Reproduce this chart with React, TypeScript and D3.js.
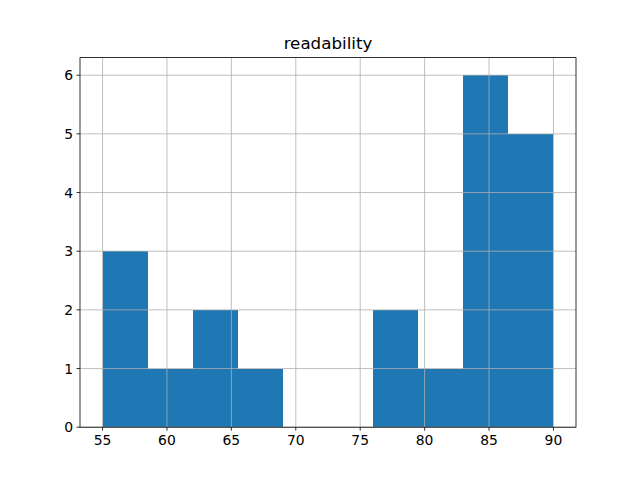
import React from "react";
import * as d3 from "d3";

const binEdges = [55, 58.5, 62, 65.5, 69, 72.5, 76, 79.5, 83, 86.5, 90];
const counts = [3, 1, 2, 1, 0, 0, 2, 1, 6, 5];
const xTicks = [55, 60, 65, 70, 75, 80, 85, 90];
const yTicks = [0, 1, 2, 3, 4, 5, 6];
const title = "readability";

export default function App() {
  const W = 640, H = 480;
  const left = 80, right = 576, top = 57.6, bottom = 427.2;
  const x = d3.scaleLinear().domain([53.25, 91.75]).range([left, right]);
  const y = d3.scaleLinear().domain([0, 6.3]).range([bottom, top]);
  const font = "DejaVu Sans, sans-serif";
  const r = (v: number) => Math.round(v);
  return (
    <svg width={W} height={H} style={{ position: "absolute", left: 0, top: 0 }}>
      <rect width={W} height={H} fill="#fff" />
      {counts.map((c, i) => (
        <rect
          key={i}
          x={r(x(binEdges[i]))}
          width={r(x(binEdges[i + 1])) - r(x(binEdges[i]))}
          y={r(y(c))}
          height={r(y(0)) - r(y(c))}
          fill="#1f77b4"
          shapeRendering="crispEdges"
        />
      ))}
      {xTicks.map((t) => (
        <line key={"gx" + t} x1={x(t)} x2={x(t)} y1={top} y2={bottom} stroke="#b0b0b0" strokeWidth={0.8} />
      ))}
      {yTicks.map((t) => (
        <line key={"gy" + t} x1={left} x2={right} y1={y(t)} y2={y(t)} stroke="#b0b0b0" strokeWidth={0.8} />
      ))}
      <rect x={left} y={top} width={right - left} height={bottom - top} fill="none" stroke="#000" strokeWidth={0.8} />
      {xTicks.map((t) => (
        <g key={"tx" + t}>
          <line x1={x(t)} x2={x(t)} y1={bottom} y2={bottom + 3.5} stroke="#000" strokeWidth={0.8} />
          <text x={x(t)} y={bottom + 7} dy="0.76em" textAnchor="middle" fontFamily={font} fontSize={13.9}>
            {t}
          </text>
        </g>
      ))}
      {yTicks.map((t) => (
        <g key={"ty" + t}>
          <line x1={left - 3.5} x2={left} y1={y(t)} y2={y(t)} stroke="#000" strokeWidth={0.8} />
          <text x={left - 7} y={y(t)} dy="0.36em" textAnchor="end" fontFamily={font} fontSize={13.9}>
            {t}
          </text>
        </g>
      ))}
      <text x={(left + right) / 2} y={top - 8.3} textAnchor="middle" fontFamily={font} fontSize={16.7}>
        {title}
      </text>
    </svg>
  );
}
